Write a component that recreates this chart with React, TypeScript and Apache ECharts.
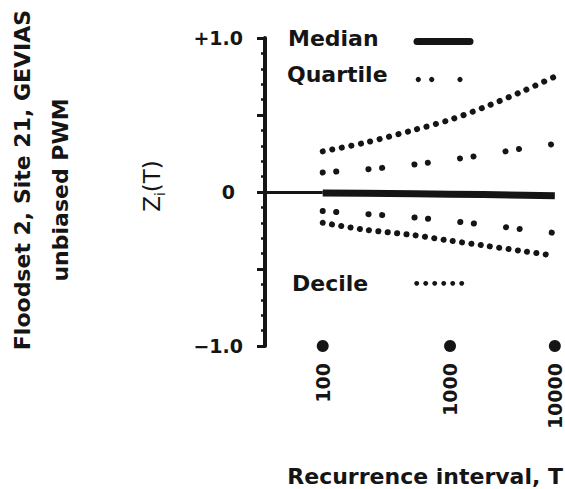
import React, { useEffect, useRef } from "react";
import * as echarts from "echarts";

// Recurrence intervals (T) at which curves were read
const returnPeriods = [100, 200, 500, 1000, 2000, 5000, 10000];
const median = [-0.006, -0.008, -0.011, -0.014, -0.017, -0.021, -0.024];
const upperQuartile = [0.127, 0.146, 0.179, 0.209, 0.24, 0.285, 0.312];
const lowerQuartile = [-0.124, -0.142, -0.166, -0.188, -0.211, -0.244, -0.266];
const upperDecile = [0.264, 0.319, 0.404, 0.469, 0.548, 0.661, 0.749];
const lowerDecile = [-0.2, -0.244, -0.281, -0.316, -0.347, -0.386, -0.414];

// x tick labels
const tickPeriods = [100, 1000, 10000];
const tickLabels = ["100", "1000", "10000"];

// y tick labels
const yTickValues = [1, 0, -1];
const yTickTexts = ["+1.0", "0", "−1.0"];

const FONT = "DejaVu Sans";
const INK = "#151515";

// normal probability scale: z = Phi^-1(1 - 1/T)
function normInv(p: number): number {
  const a = [-3.969683028665376e1, 2.209460984245205e2, -2.759285104469687e2, 1.38357751867269e2, -3.066479806614716e1, 2.506628277459239];
  const b = [-5.447609879822406e1, 1.615858368580409e2, -1.556989798598866e2, 6.680131188771972e1, -1.328068155288572e1];
  const c = [-7.784894002430293e-3, -3.223964580411365e-1, -2.400758277161838, -2.549732539343734, 4.374664141464968, 2.938163982698783];
  const d = [7.784695709041462e-3, 3.224671290700398e-1, 2.445134137142996, 3.754408661907416];
  const pLow = 0.02425;
  const pHigh = 1 - pLow;
  if (p < pLow) {
    const q = Math.sqrt(-2 * Math.log(p));
    return (((((c[0] * q + c[1]) * q + c[2]) * q + c[3]) * q + c[4]) * q + c[5]) / ((((d[0] * q + d[1]) * q + d[2]) * q + d[3]) * q + 1);
  }
  if (p <= pHigh) {
    const q = p - 0.5;
    const r = q * q;
    return ((((((a[0] * r + a[1]) * r + a[2]) * r + a[3]) * r + a[4]) * r + a[5]) * q) / (((((b[0] * r + b[1]) * r + b[2]) * r + b[3]) * r + b[4]) * r + 1);
  }
  const q = Math.sqrt(-2 * Math.log(1 - p));
  return -(((((c[0] * q + c[1]) * q + c[2]) * q + c[3]) * q + c[4]) * q + c[5]) / ((((d[0] * q + d[1]) * q + d[2]) * q + d[3]) * q + 1);
}
const zOf = (T: number) => normInv(1 - 1 / T);

const X_MIN = 1.98;
const X_MAX = 3.75;

function toPoints(vals: number[]) {
  return returnPeriods.map((T, i) => [zOf(T), vals[i]]);
}

function dottedSeries(name: string, vals: number[], dash: number[]) {
  return {
    name,
    type: "line",
    data: toPoints(vals),
    symbol: "none",
    showSymbol: false,
    smooth: 0.3,
    silent: true,
    lineStyle: { color: INK, width: 6, type: dash, cap: "round" },
    z: 3,
  };
}

export default function App() {
  const ref = useRef<HTMLDivElement>(null);

  useEffect(() => {
    if (!ref.current) return;
    const chart = echarts.init(ref.current, null, { renderer: "svg" });
    const tickZ = tickPeriods.map(zOf);

    const boldText = (size: number) => `bold ${size}px "${FONT}"`;

    const option: any = {
      animation: false,
      backgroundColor: "#ffffff",
      grid: { left: 265, right: 5, top: 38, bottom: 143, containLabel: false },
      xAxis: {
        type: "value",
        min: X_MIN,
        max: X_MAX,
        axisLine: { show: false },
        axisTick: { show: false },
        splitLine: { show: false },
        axisLabel: {
          customValues: tickZ,
          rotate: 90,
          margin: 17,
          color: INK,
          fontFamily: FONT,
          fontWeight: "bold",
          fontSize: 19,
          formatter: (v: number) => {
            let best = 0;
            tickZ.forEach((z, i) => {
              if (Math.abs(z - v) < Math.abs(tickZ[best] - v)) best = i;
            });
            return tickLabels[best];
          },
        },
      },
      yAxis: {
        type: "value",
        min: -1,
        max: 1,
        interval: 0.5,
        axisLine: { show: true, lineStyle: { color: INK, width: 4 } },
        axisTick: { show: true, length: 8, lineStyle: { color: INK, width: 3 } },
        minorTick: { show: true, splitNumber: 5, length: 4, lineStyle: { color: INK, width: 2.5 } },
        splitLine: { show: false },
        axisLabel: {
          margin: 22,
          color: INK,
          fontFamily: FONT,
          fontWeight: "bold",
          fontSize: 19,
          formatter: (v: number) => {
            const idx = yTickValues.findIndex((t) => Math.abs(t - v) < 1e-9);
            if (idx < 0) return "";
            if (yTickValues[idx] === 0) return "{z|0}";
            return yTickTexts[idx];
          },
          rich: {
            z: { fontFamily: FONT, fontWeight: "bold", fontSize: 19, color: INK, padding: [0, 8, 0, 0] },
          },
        },
      },
      series: [
        {
          name: "Median",
          type: "line",
          data: toPoints(median),
          symbol: "none",
          showSymbol: false,
          silent: true,
          lineStyle: { color: INK, width: 7 },
          z: 4,
          markLine: {
            silent: true,
            symbol: "none",
            label: { show: false },
            lineStyle: { type: "solid", color: INK, width: 3 },
            data: [[{ coord: [X_MIN, 0] }, { coord: [zOf(returnPeriods[0]), 0] }]],
          },
        },
        dottedSeries("Upper quartile", upperQuartile, [0.1, 13.5, 0.1, 32.3]),
        dottedSeries("Lower quartile", lowerQuartile, [0.1, 13.5, 0.1, 32.3]),
        dottedSeries("Upper decile", upperDecile, [0.1, 9.6]),
        dottedSeries("Lower decile", lowerDecile, [0.1, 9.28]),
        {
          name: "T marks",
          type: "scatter",
          data: tickPeriods.map((T) => [zOf(T), -1]),
          symbol: "circle",
          symbolSize: 12,
          clip: false,
          silent: true,
          itemStyle: { color: INK, opacity: 1 },
          z: 5,
        },
      ],
      graphic: [
        // legend
        { type: "text", x: 288, y: 38, style: { text: "Median", font: boldText(22), fill: INK, align: "left", verticalAlign: "middle" } },
        { type: "line", shape: { x1: 417, y1: 41.5, x2: 470, y2: 41.5 }, style: { stroke: INK, lineWidth: 7, lineCap: "round" } },
        { type: "text", x: 287, y: 74, style: { text: "Quartile", font: boldText(22), fill: INK, align: "left", verticalAlign: "middle" } },
        ...[418.3, 431.7, 460].map((cx) => ({ type: "circle", shape: { cx, cy: 79.5, r: 2.6 }, style: { fill: INK } })),
        { type: "text", x: 292, y: 283.5, style: { text: "Decile", font: boldText(22), fill: INK, align: "left", verticalAlign: "middle" } },
        ...[0, 1, 2, 3, 4, 5].map((i) => ({ type: "circle", shape: { cx: 416.7 + i * 9, cy: 283.3, r: 2.4 }, style: { fill: INK } })),
        // axis titles
        { type: "text", x: 563, y: 476, style: { text: "Recurrence interval, T", font: boldText(22), fill: INK, align: "right", verticalAlign: "middle" } },
        { type: "text", x: 22, y: 180, rotation: Math.PI / 2, style: { text: "Floodset 2, Site 21, GEVIAS", font: boldText(22), fill: INK, align: "center", verticalAlign: "middle" } },
        { type: "text", x: 60, y: 190, rotation: Math.PI / 2, style: { text: "unbiased PWM", font: boldText(22), fill: INK, align: "center", verticalAlign: "middle" } },
        {
          type: "text",
          x: 152,
          y: 186,
          rotation: Math.PI / 2,
          style: {
            text: "{z|Z}{s|i}{z|(T)}",
            align: "center",
            verticalAlign: "middle",
            fill: INK,
            rich: {
              z: { fontFamily: FONT, fontSize: 23, fill: INK, lineHeight: 30, verticalAlign: "middle" },
              s: { fontFamily: FONT, fontSize: 14, fill: INK, lineHeight: 14, verticalAlign: "bottom" },
            },
          },
        },
      ],
    };

    chart.setOption(option);
    return () => chart.dispose();
  }, []);

  return (
    <div
      ref={ref}
      style={{ position: "fixed", left: 0, top: 0, width: 565, height: 489, background: "#fff" }}
    />
  );
}
